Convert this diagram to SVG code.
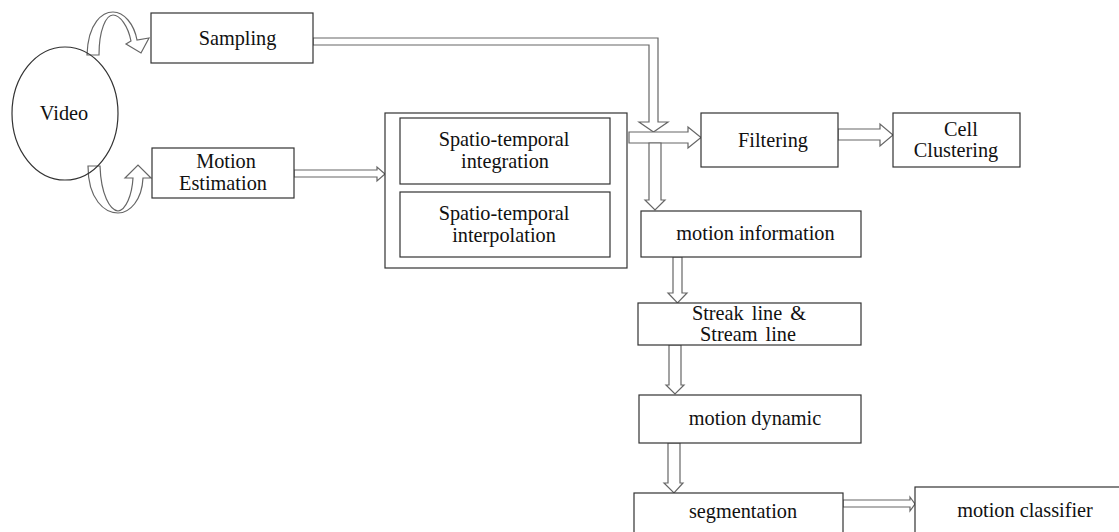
<svg xmlns="http://www.w3.org/2000/svg" width="1119" height="532" viewBox="0 0 1119 532">
<style>
.box{fill:#fff;stroke:#333;stroke-width:1.2}
.arr{fill:#fff;stroke:#666;stroke-width:1.2;stroke-linejoin:miter}
text{font-family:"Liberation Serif","Times New Roman",serif;font-size:20.3px;fill:#111;text-anchor:middle}
.ws{word-spacing:3px}
</style>
<rect width="1119" height="532" fill="#fff"/>
<g id="connectors">
<path class="arr" d="M87,55 C88,22 103,12 113,12 C124,12 134,24 137,40 L149,38 L141,53 L126,44 L131,41 C128,26 120,15 113,15 C106,15 99,30 99,55 Z"/>
<path class="arr" d="M88,166 L100,166 C101,195 110,210 118,211 C126,210 132,195 133,178 L125,178 L138,165 L151,178 L143,178 C142,200 130,213 118,213 C105,213 88,200 88,166 Z"/>
<path class="arr" d="M313,38 L658,38 L658,122 L668,122 L653.5,132 L639,122 L649,122 L649,45 L313,45 Z"/>
<path class="arr" d="M629,132 L688,132 L688,127 L701,137.5 L688,148 L688,143 L629,143 Z"/>
<path class="arr" d="M649,143 L661,143 L661,200 L665,200 L655,210 L645,200 L649,200 Z"/>
<path class="arr" d="M294,170 L377,170 L377,167 L385,174 L377,181 L377,177 L294,177 Z"/>
<path class="arr" d="M838,129 L880,129 L880,124 L893,135 L880,146 L880,140 L838,140 Z"/>
<path class="arr" d="M673,257 L682,257 L682,293 L687,293 L677.5,303 L668,293 L673,293 Z"/>
<path class="arr" d="M669,345 L681,345 L681,385 L684,385 L675,394 L666,385 L669,385 Z"/>
<path class="arr" d="M668,443 L680,443 L680,483 L683,483 L674,493 L664,483 L668,483 Z"/>
<path class="arr" d="M843,500 L910,500 L910,497 L915,504 L910,511 L910,507 L843,507 Z"/>
</g>
<g id="video"><ellipse cx="65" cy="113.5" rx="53" ry="66.5" fill="none" stroke="#333" stroke-width="1.2"/><text x="64" y="120">Video</text></g>
<g id="sampling"><rect class="box" x="151" y="13" width="162" height="50"/><text x="237.5" y="45">Sampling</text></g>
<g id="motion-estimation"><rect class="box" x="152" y="148" width="142" height="50"/><text x="226" y="168">Motion</text><text x="223" y="190">Estimation</text></g>
<g id="spatio-block"><rect class="box" x="385" y="113" width="242" height="155"/>
<g id="integration"><rect class="box" x="400" y="118" width="210" height="66"/><text x="504" y="146">Spatio-temporal</text><text x="505" y="168">integration</text></g>
<g id="interpolation"><rect class="box" x="400" y="192" width="210" height="65"/><text x="504" y="220">Spatio-temporal</text><text x="504" y="242">interpolation</text></g>
</g>
<g id="filtering"><rect class="box" x="701" y="113" width="137" height="54"/><text x="773" y="147">Filtering</text></g>
<g id="cell-clustering"><rect class="box" x="893" y="113" width="127" height="54"/><text x="961" y="136">Cell</text><text x="956" y="157">Clustering</text></g>
<g id="motion-information"><rect class="box" x="641" y="211" width="220" height="46"/><text x="755.5" y="240">motion information</text></g>
<g id="streak"><rect class="box" x="638" y="303" width="223" height="42"/><text class="ws" x="749" y="320">Streak line &amp;</text><text class="ws" x="748" y="341">Stream line</text></g>
<g id="motion-dynamic"><rect class="box" x="639" y="395" width="222" height="48"/><text x="755" y="425">motion dynamic</text></g>
<g id="segmentation"><rect class="box" x="634" y="493" width="209" height="50"/><text x="743" y="518">segmentation</text></g>
<g id="motion-classifier"><rect class="box" x="915" y="487" width="220" height="60"/><text x="1025" y="517">motion classifier</text></g>
</svg>
